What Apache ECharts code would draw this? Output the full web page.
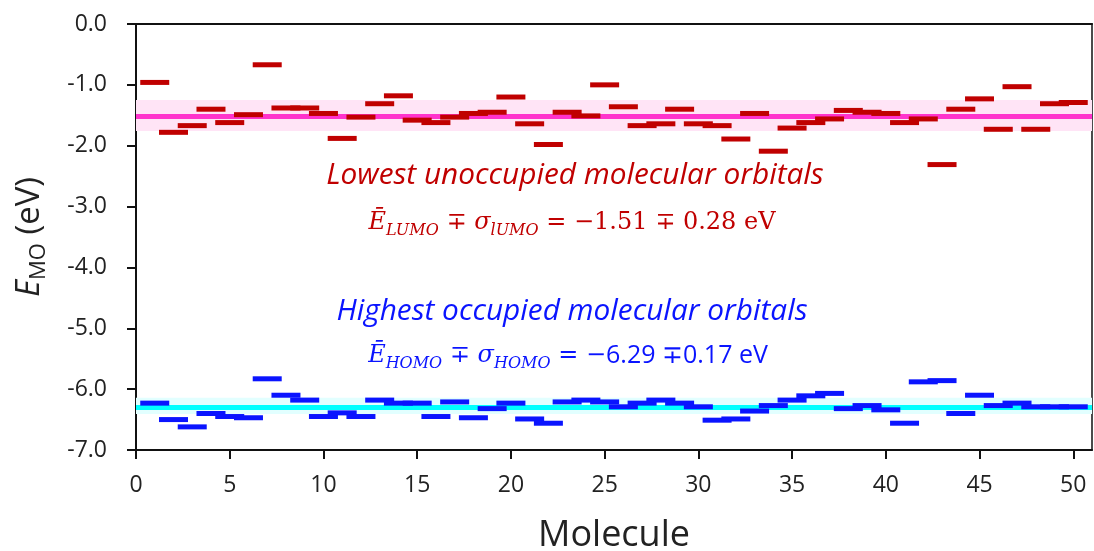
<!DOCTYPE html>
<html>
<head>
<meta charset="utf-8">
<script src="https://cdn.jsdelivr.net/npm/echarts@6/dist/echarts.min.js"></script>
<style>
  html, body { margin: 0; padding: 0; background: #fff; }
  #chart { width: 1094px; height: 551px; }
</style>
</head>
<body>
<div id="chart"></div>
<script>
// molecule index 1..50
const molecules = Array.from({ length: 50 }, (_, i) => i + 1)

const lumo = [
  -0.96, -1.78, -1.67, -1.40, -1.62, -1.49, -0.67, -1.38, -1.38, -1.47,
  -1.88, -1.53, -1.31, -1.18, -1.58, -1.62, -1.53, -1.47, -1.45, -1.20,
  -1.64, -1.98, -1.45, -1.51, -1.00, -1.36, -1.67, -1.64, -1.40, -1.64,
  -1.67, -1.89, -1.47, -2.09, -1.71, -1.62, -1.56, -1.42, -1.45, -1.47,
  -1.62, -1.56, -2.31, -1.40, -1.23, -1.73, -1.03, -1.73, -1.31, -1.29
]
const homo = [
  -6.23, -6.50, -6.62, -6.40, -6.45, -6.47, -5.83, -6.10, -6.18, -6.45,
  -6.39, -6.45, -6.18, -6.23, -6.23, -6.45, -6.21, -6.47, -6.32, -6.23,
  -6.49, -6.56, -6.21, -6.18, -6.21, -6.29, -6.23, -6.18, -6.23, -6.29,
  -6.51, -6.49, -6.36, -6.27, -6.18, -6.11, -6.07, -6.32, -6.27, -6.34,
  -6.56, -5.88, -5.86, -6.40, -6.10, -6.27, -6.23, -6.29, -6.29, -6.29
]

const lumoMean = -1.51
const lumoBand = [-1.25, -1.76]
const homoMean = -6.29
const homoBand = [-6.14, -6.41]

const xTicks = [0, 5, 10, 15, 20, 25, 30, 35, 40, 45, 50]
const yTicks = [0, -1, -2, -3, -4, -5, -6, -7]

const chart = echarts.init(document.getElementById('chart'))

const axisFont = { fontFamily: 'Open Sans', fontSize: 23, color: '#222' }

const formulaRich = (color) => ({
  i: { fontFamily: 'DejaVu Serif', fontStyle: 'italic', fontSize: 24, fill: color, lineHeight: 32 },
  s: { fontFamily: 'DejaVu Serif', fontStyle: 'italic', fontSize: 16, fill: color, verticalAlign: 'bottom', lineHeight: 15 },
  n: { fontFamily: 'DejaVu Serif', fontSize: 24, fill: color, lineHeight: 32 },
  m: { fontFamily: 'Open Sans', fontSize: 25, fill: color, lineHeight: 32 }
})

chart.setOption({
  animation: false,
  grid: {
    left: 136, right: 2, top: 24, bottom: 101,
    outerBoundsMode: 'none',
    show: true, borderColor: '#111', borderWidth: 1.5
  },
  xAxis: [{
    type: 'value', min: 0, max: 51,
    name: 'Molecule', nameLocation: 'middle', nameGap: 68,
    nameTextStyle: { fontFamily: 'Open Sans', fontSize: 36, color: '#222' },
    axisLine: { show: true, onZero: false, lineStyle: { color: '#111', width: 2 } },
    axisTick: { show: true, length: 9, lineStyle: { color: '#111', width: 2 }, customValues: xTicks },
    axisLabel: { ...axisFont, margin: 24, customValues: xTicks },
    splitLine: { show: false }
  }, {
    type: 'value', min: 0, max: 51, position: 'top',
    axisLine: { show: true, onZero: false, lineStyle: { color: '#111', width: 2 } },
    axisTick: { show: false }, axisLabel: { show: false }, splitLine: { show: false }
  }],
  yAxis: {
    type: 'value', min: -7, max: 0, interval: 1,
    name: '{i|E}{s|MO} (eV)', nameLocation: 'middle', nameGap: 86,
    nameTextStyle: {
      fontFamily: 'Open Sans', fontSize: 33, color: '#222',
      rich: {
        i: { fontFamily: 'Open Sans', fontSize: 33, fontStyle: 'italic', color: '#222', lineHeight: 40 },
        s: { fontFamily: 'Open Sans', fontSize: 22, color: '#222', verticalAlign: 'bottom', lineHeight: 20 }
      }
    },
    axisLine: { show: true, onZero: false, lineStyle: { color: '#111', width: 2 } },
    axisTick: { show: true, length: 9, lineStyle: { color: '#111', width: 2 }, customValues: yTicks },
    axisLabel: { ...axisFont, margin: 29, formatter: v => v.toFixed(1), customValues: yTicks },
    splitLine: { show: false }
  },
  series: [
    {
      name: 'LUMO', type: 'scatter', z: 5,
      symbol: 'rect', symbolSize: [29, 5],
      itemStyle: { color: '#c00000', opacity: 1 },
      data: molecules.map((m, i) => [m, lumo[i]]),
      markArea: {
        silent: true, z: 1,
        itemStyle: { color: '#ffe4f6' },
        data: [[{ yAxis: lumoBand[0] }, { yAxis: lumoBand[1] }]]
      },
      markLine: {
        silent: true, symbol: 'none', z: 2,
        label: { show: false },
        lineStyle: { color: '#ff33cc', width: 5, type: 'solid', opacity: 1 },
        data: [{ yAxis: lumoMean }]
      }
    },
    {
      name: 'HOMO', type: 'scatter', z: 5,
      symbol: 'rect', symbolSize: [29, 5],
      itemStyle: { color: '#0a14ff', opacity: 1 },
      data: molecules.map((m, i) => [m, homo[i]]),
      markArea: {
        silent: true, z: 1,
        itemStyle: { color: '#e2ffff' },
        data: [[{ yAxis: homoBand[0] }, { yAxis: homoBand[1] }]]
      },
      markLine: {
        silent: true, symbol: 'none', z: 2,
        label: { show: false },
        lineStyle: { color: '#00ffff', width: 5, type: 'solid', opacity: 1 },
        data: [{ yAxis: homoMean }]
      }
    }
  ],
  graphic: [
    {
      type: 'text', x: 575, y: 176, z: 10,
      style: {
        text: 'Lowest unoccupied molecular orbitals',
        font: 'italic 29.8px "Open Sans"', fill: '#c00000',
        align: 'center', verticalAlign: 'middle'
      }
    },
    {
      type: 'text', x: 572, y: 223, z: 10,
      style: {
        text: '{i|Ē}{s|LUMO}{n| ∓ }{i|σ}{s|lUMO}{n| = −1.51 ∓ 0.28 eV}',
        align: 'center', verticalAlign: 'middle', fill: '#c00000',
        rich: formulaRich('#c00000')
      }
    },
    {
      type: 'text', x: 572, y: 312, z: 10,
      style: {
        text: 'Highest occupied molecular orbitals',
        font: 'italic 29.8px "Open Sans"', fill: '#0a14ff',
        align: 'center', verticalAlign: 'middle'
      }
    },
    {
      type: 'text', x: 568, y: 356, z: 10,
      style: {
        text: '{i|Ē}{s|HOMO}{n| ∓ }{i|σ}{s|HOMO}{n| = −}{m|6.29 ∓0.17 eV}',
        align: 'center', verticalAlign: 'middle', fill: '#0a14ff',
        rich: formulaRich('#0a14ff')
      }
    }
  ]
})

window.addEventListener('resize', () => chart.resize())
</script>
</body>
</html>
